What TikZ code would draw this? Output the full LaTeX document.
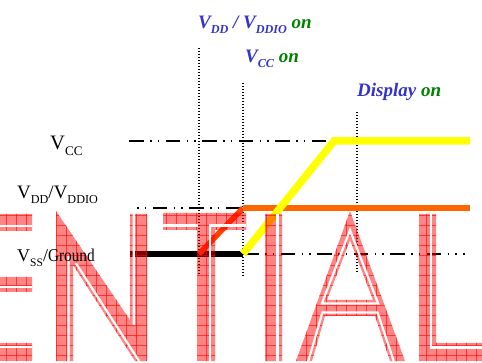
\documentclass[tikz,border=0pt]{standalone}
\usepackage{fontspec}
\usepackage{graphicx}
\setmainfont{Liberation Serif}
\definecolor{evtblue}{RGB}{51,51,204}
\definecolor{evtgreen}{RGB}{0,128,0}
\definecolor{vddorange}{RGB}{255,102,0}
\definecolor{vddramp}{RGB}{255,64,0}
\definecolor{vccyellow}{RGB}{255,255,0}
\newcommand\lo[1]{\raisebox{-0.25em}{\scalebox{0.64}{#1}}}
% letter outlines of the watermark, pixel units, y down
\newcommand\wmletters{
  (-5,214) rectangle (32,231) (-5,277) rectangle (32,292) (-5,343) rectangle (32,361)
  (56,211) -- (130,320) -- (130,214) -- (147,214) -- (147,361) -- (135,361) -- (73,265)
    -- (73,361) -- (56,361) -- cycle
  (163,213) -- (246,213) -- (246,230) -- (215,230) -- (215,361) -- (197,361) -- (197,230)
    -- (163,230) -- cycle
  (265,214) rectangle (282,361)
  (350,211) -- (405,361) -- (390,361) -- (375,316) -- (325,316) -- (312,361) -- (296,361) -- cycle
  (350,240) -- (373,300) -- (327,300) -- cycle
  (419,214) -- (436,214) -- (436,343) -- (490,343) -- (490,361) -- (419,361) -- cycle}

\begin{document}
\begin{tikzpicture}[x=1pt,y=-1pt,
    railref/.style={line width=1.8pt,
      dash pattern=on 14.5pt off 6.5pt on 1.5pt off 6pt on 1.5pt off 6.5pt},
    marker/.style={line width=1.3pt,dash pattern=on 1.3pt off 1.7pt},
    rail/.style={line width=#1,line join=miter},
    lbl/.style={inner sep=0pt,font=\fontsize{#1}{20}\selectfont},
    evt/.style={inner sep=0pt,text=evtblue,
      font=\fontsize{19}{22}\selectfont\bfseries\itshape},
    hatch/.style={red,line width=0.8pt,opacity=0.6},
    inline/.style={white,line width=2.2pt,line join=miter}]
  \useasboundingbox (0,0) rectangle (482,363);

  % event markers
  \draw[marker] (199,48) -- (199,275);
  \draw[marker] (243,83) -- (243,276);
  \draw[marker] (357,112) -- (357,273);

  % reference levels
  \draw[railref] (129,141) -- (334,141);
  \draw[railref,dash phase=21pt] (137,208) -- (243,208);
  \draw[railref] (244,254) -- (465,254);

  % supplies
  \draw[rail=6pt] (130,254) -- (243,254);
  \draw[rail=5.5pt,vddramp] (199,254) -- (243,208);
  \draw[rail=5.5pt,vddorange] (243,208) -- (470,208);
  \draw[rail=7.5pt,vccyellow] (243,254) -- (334,141) -- (470,141);

  % watermark
  \fill[red,fill opacity=0.48,even odd rule] \wmletters;
  \begin{scope}[even odd rule]
    \clip \wmletters;
    \foreach \gx in {6.5,16.5,...,486.5}
      \draw[hatch] (\gx,205) -- (\gx,365);
    \foreach \gy in {205.5,215.5,...,365.5}
      \draw[hatch] (-10,\gy) -- (490,\gy);
  \end{scope}
  \draw[inline] (-5,226) -- (32,226) (-5,286.7) -- (32,286.7) (-5,347) -- (32,347);
  \draw[inline] (68.5,361) -- (68.5,256) (75.8,263.2) -- (139,361) (133.8,214) -- (133.8,325);
  \draw[inline] (163,225.5) -- (198,225.5) (209.8,361) -- (209.8,225.5) -- (246,225.5);
  \draw[inline] (277.5,214) -- (277.5,361);
  \draw[inline] (350,230.1) -- (378.1,303.5) -- (321.9,303.5) -- cycle
    (308.3,361) -- (322.4,312.5) -- (377.5,312.5) -- (393.7,361);
  \draw[inline] (431.3,214) -- (431.3,347.5) -- (490,347.5);

  % labels
  \node[lbl=20.5,anchor=base west] (vcclbl) at (50,150) {V\lo{CC}};
  \node[lbl=19,anchor=base west] (vddlbl) at (17,199) {V\lo{DD}/V\lo{DDIO}};
  \node[lbl=18,anchor=base west] (vsslbl) at (17,262) {V\lo{SS}/\scalebox{0.85}[1]{Ground}};
  \node[evt,anchor=base west] (vddon) at (198,29) {V\lo{DD} / V\lo{DDIO} \textcolor{evtgreen}{on}};
  \node[evt,anchor=base west] (vccon) at (245,63) {V\lo{CC} \textcolor{evtgreen}{on}};
  \node[evt,anchor=base west] (dispon) at (357,97) {Display \textcolor{evtgreen}{on}};
\end{tikzpicture}
\end{document}
